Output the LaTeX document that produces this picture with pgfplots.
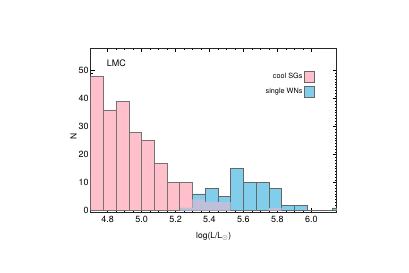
\documentclass[border=0pt]{standalone}
\usepackage{pgfplots}
\pgfplotsset{compat=1.18}
\usepackage{fontspec}
\setmainfont{TeX Gyre Heros}
\definecolor{sgpink}{RGB}{255,192,203}
\definecolor{wnblue}{RGB}{128,206,235}
\definecolor{ovl}{RGB}{190,191,216}
\begin{document}
\begin{tikzpicture}
\path[use as bounding box] (0,0) rectangle (409bp,273bp);
\begin{axis}[
  at={(90.7bp,60.7bp)}, anchor=south west,
  width=246bp, height=164bp, scale only axis,
  xmin=4.70, xmax=6.15, ymin=-0.6, ymax=58,
  xtick={4.8,5.0,5.2,5.4,5.6,5.8,6.0},
  xticklabels={4.8,5.0,5.2,5.4,5.6,5.8,6.0},
  ytick={0,10,20,30,40,50},
  minor x tick num=3, minor y tick num=9,
  tick align=inside, tick pos=both,
  major tick length=4bp, minor tick length=2bp,
  every tick/.style={black, line width=0.4pt},
  axis line style={line width=0.6pt, black!85},
  /pgf/number format/assume math mode=true,
  tick label style={font=\fontsize{9}{10}\selectfont},
  xticklabel style={yshift=-0.5bp},
  yticklabel style={xshift=1.5bp},
  label style={font=\fontsize{8.5}{10}\selectfont},
  xlabel={log(L/L$_{\odot}$)},
  ylabel={N},
  xlabel style={at={(axis description cs:0.5,-0.145)}, anchor=center},
  ylabel style={at={(axis description cs:-0.07,0.46)}, anchor=center},
  legend style={at={(0.925,0.875)}, anchor=north east, draw=none, fill=none,
    font=\fontsize{7.3}{8}\selectfont, row sep=3.3bp, cells={anchor=east}},
  legend plot pos=right,
  legend image code/.code={\draw[#1,draw=black!60,line width=0.6pt] (0bp,-5.5bp) rectangle (10bp,5.5bp);},
  clip=true,
]
\addplot[ybar interval, fill=sgpink, draw=black!55, line width=0.6pt] coordinates {
 (4.700,48) (4.775,36) (4.850,39) (4.925,28) (5.000,25) (5.075,17)
 (5.150,10) (5.225,10) (5.300,4) (5.375,3) (5.450,3) (5.525,0)
 (5.600,0) (5.675,0) (5.750,1) (5.825,0) (5.900,0)};
\addlegendentry{cool SGs}
\addplot[ybar interval, fill=wnblue, draw=black!60, line width=0.6pt] coordinates {
 (5.225,1) (5.300,6) (5.375,8) (5.450,5) (5.525,15) (5.600,10)
 (5.675,10) (5.750,8) (5.825,2) (5.900,2) (5.975,0) (6.050,0)
 (6.125,1) (6.200,1)};
\addlegendentry{single WNs}
\addplot[ybar interval, fill=ovl, draw=none, forget plot] coordinates {
 (5.225,1) (5.300,4) (5.375,3) (5.450,3) (5.525,0) (5.750,1) (5.825,0)};
\node[font=\fontsize{9}{10}\selectfont, anchor=west, inner sep=0pt] at (axis cs:4.794,52.5) {LMC};
\end{axis}
\end{tikzpicture}
\end{document}
